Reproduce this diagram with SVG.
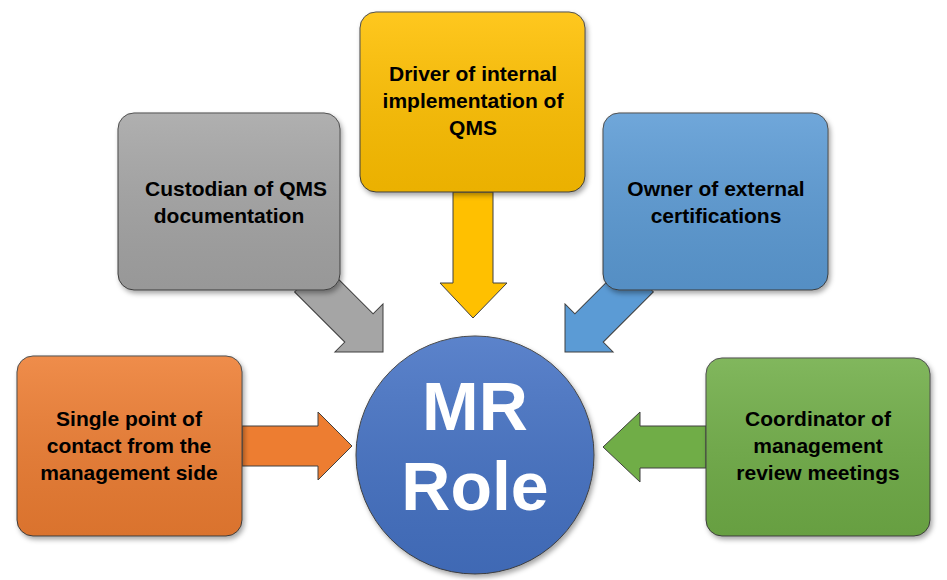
<svg xmlns="http://www.w3.org/2000/svg" width="947" height="580" viewBox="0 0 947 580">
<defs>
<linearGradient id="g" x1="0" y1="0" x2="0" y2="1"><stop offset="0" stop-color="#fff" stop-opacity="0.12"/><stop offset="1" stop-color="#000" stop-opacity="0.08"/></linearGradient>
<filter id="sh" x="-10%" y="-10%" width="130%" height="130%"><feDropShadow dx="2" dy="3" stdDeviation="2.5" flood-opacity="0.35"/></filter>
<style>
.box{stroke:#404040;stroke-width:1;filter:url(#sh)}
.t{font-family:"Liberation Sans",Arial,sans-serif;font-weight:bold;font-size:21px;fill:#000;text-anchor:middle}
.arr{stroke:#404040;stroke-width:1}
.big{font-family:"Liberation Sans",Arial,sans-serif;font-weight:bold;font-size:68px;fill:#fff;text-anchor:middle}
</style>
</defs>
<g id="connectors">
<polygon class="arr" fill="#FFC000" points="453,192 493,192 493,283 507,283 473,318 440,283 453,283"/>
<polygon class="arr" fill="#A5A5A5" transform="translate(383,352) rotate(45)" points="-105,-20 -34,-20 -34,-34 0,0 -34,34 -34,20 -105,20"/>
<polygon class="arr" fill="#5B9BD5" transform="translate(565,352) rotate(135)" points="-105,-20 -34,-20 -34,-34 0,0 -34,34 -34,20 -105,20"/>
<polygon class="arr" fill="#ED7D31" points="242,426 318,426 318,412 352,446 318,480 318,466 242,466"/>
<polygon class="arr" fill="#70AD47" points="706,426 640,426 640,412 603,447 640,482 640,468 706,468"/>
</g>
<g id="top"><rect class="box" x="360" y="12" width="225" height="180" rx="16" fill="#FFC000"/><rect x="360" y="12" width="225" height="180" rx="16" fill="url(#g)"/>
<text class="t" x="473" y="81">Driver of internal</text><text class="t" x="473" y="108">implementation of</text><text class="t" x="473" y="135">QMS</text></g>
<g id="gray"><rect class="box" x="118" y="113" width="222" height="177" rx="16" fill="#A5A5A5"/><rect x="118" y="113" width="222" height="177" rx="16" fill="url(#g)"/>
<text class="t" x="236" y="196">Custodian of QMS</text><text class="t" x="229" y="223">documentation</text></g>
<g id="blue"><rect class="box" x="603" y="113" width="225" height="177" rx="16" fill="#5B9BD5"/><rect x="603" y="113" width="225" height="177" rx="16" fill="url(#g)"/>
<text class="t" x="716" y="196">Owner of external</text><text class="t" x="716" y="223">certifications</text></g>
<g id="orange"><rect class="box" x="17" y="356" width="225" height="180" rx="16" fill="#ED7D31"/><rect x="17" y="356" width="225" height="180" rx="16" fill="url(#g)"/>
<text class="t" x="129" y="426">Single point of</text><text class="t" x="129" y="453">contact from the</text><text class="t" x="129" y="480">management side</text></g>
<g id="green"><rect class="box" x="706" y="358" width="224" height="178" rx="16" fill="#70AD47"/><rect x="706" y="358" width="224" height="178" rx="16" fill="url(#g)"/>
<text class="t" x="818" y="426">Coordinator of</text><text class="t" x="818" y="453">management</text><text class="t" x="818" y="480">review meetings</text></g>
<g id="center"><circle class="box" cx="475" cy="455" r="119" fill="#4472C4"/><circle cx="475" cy="455" r="119" fill="url(#g)"/>
<text class="big" x="475" y="430">MR</text>
<text class="big" x="475" y="510">Role</text></g>
</svg>
